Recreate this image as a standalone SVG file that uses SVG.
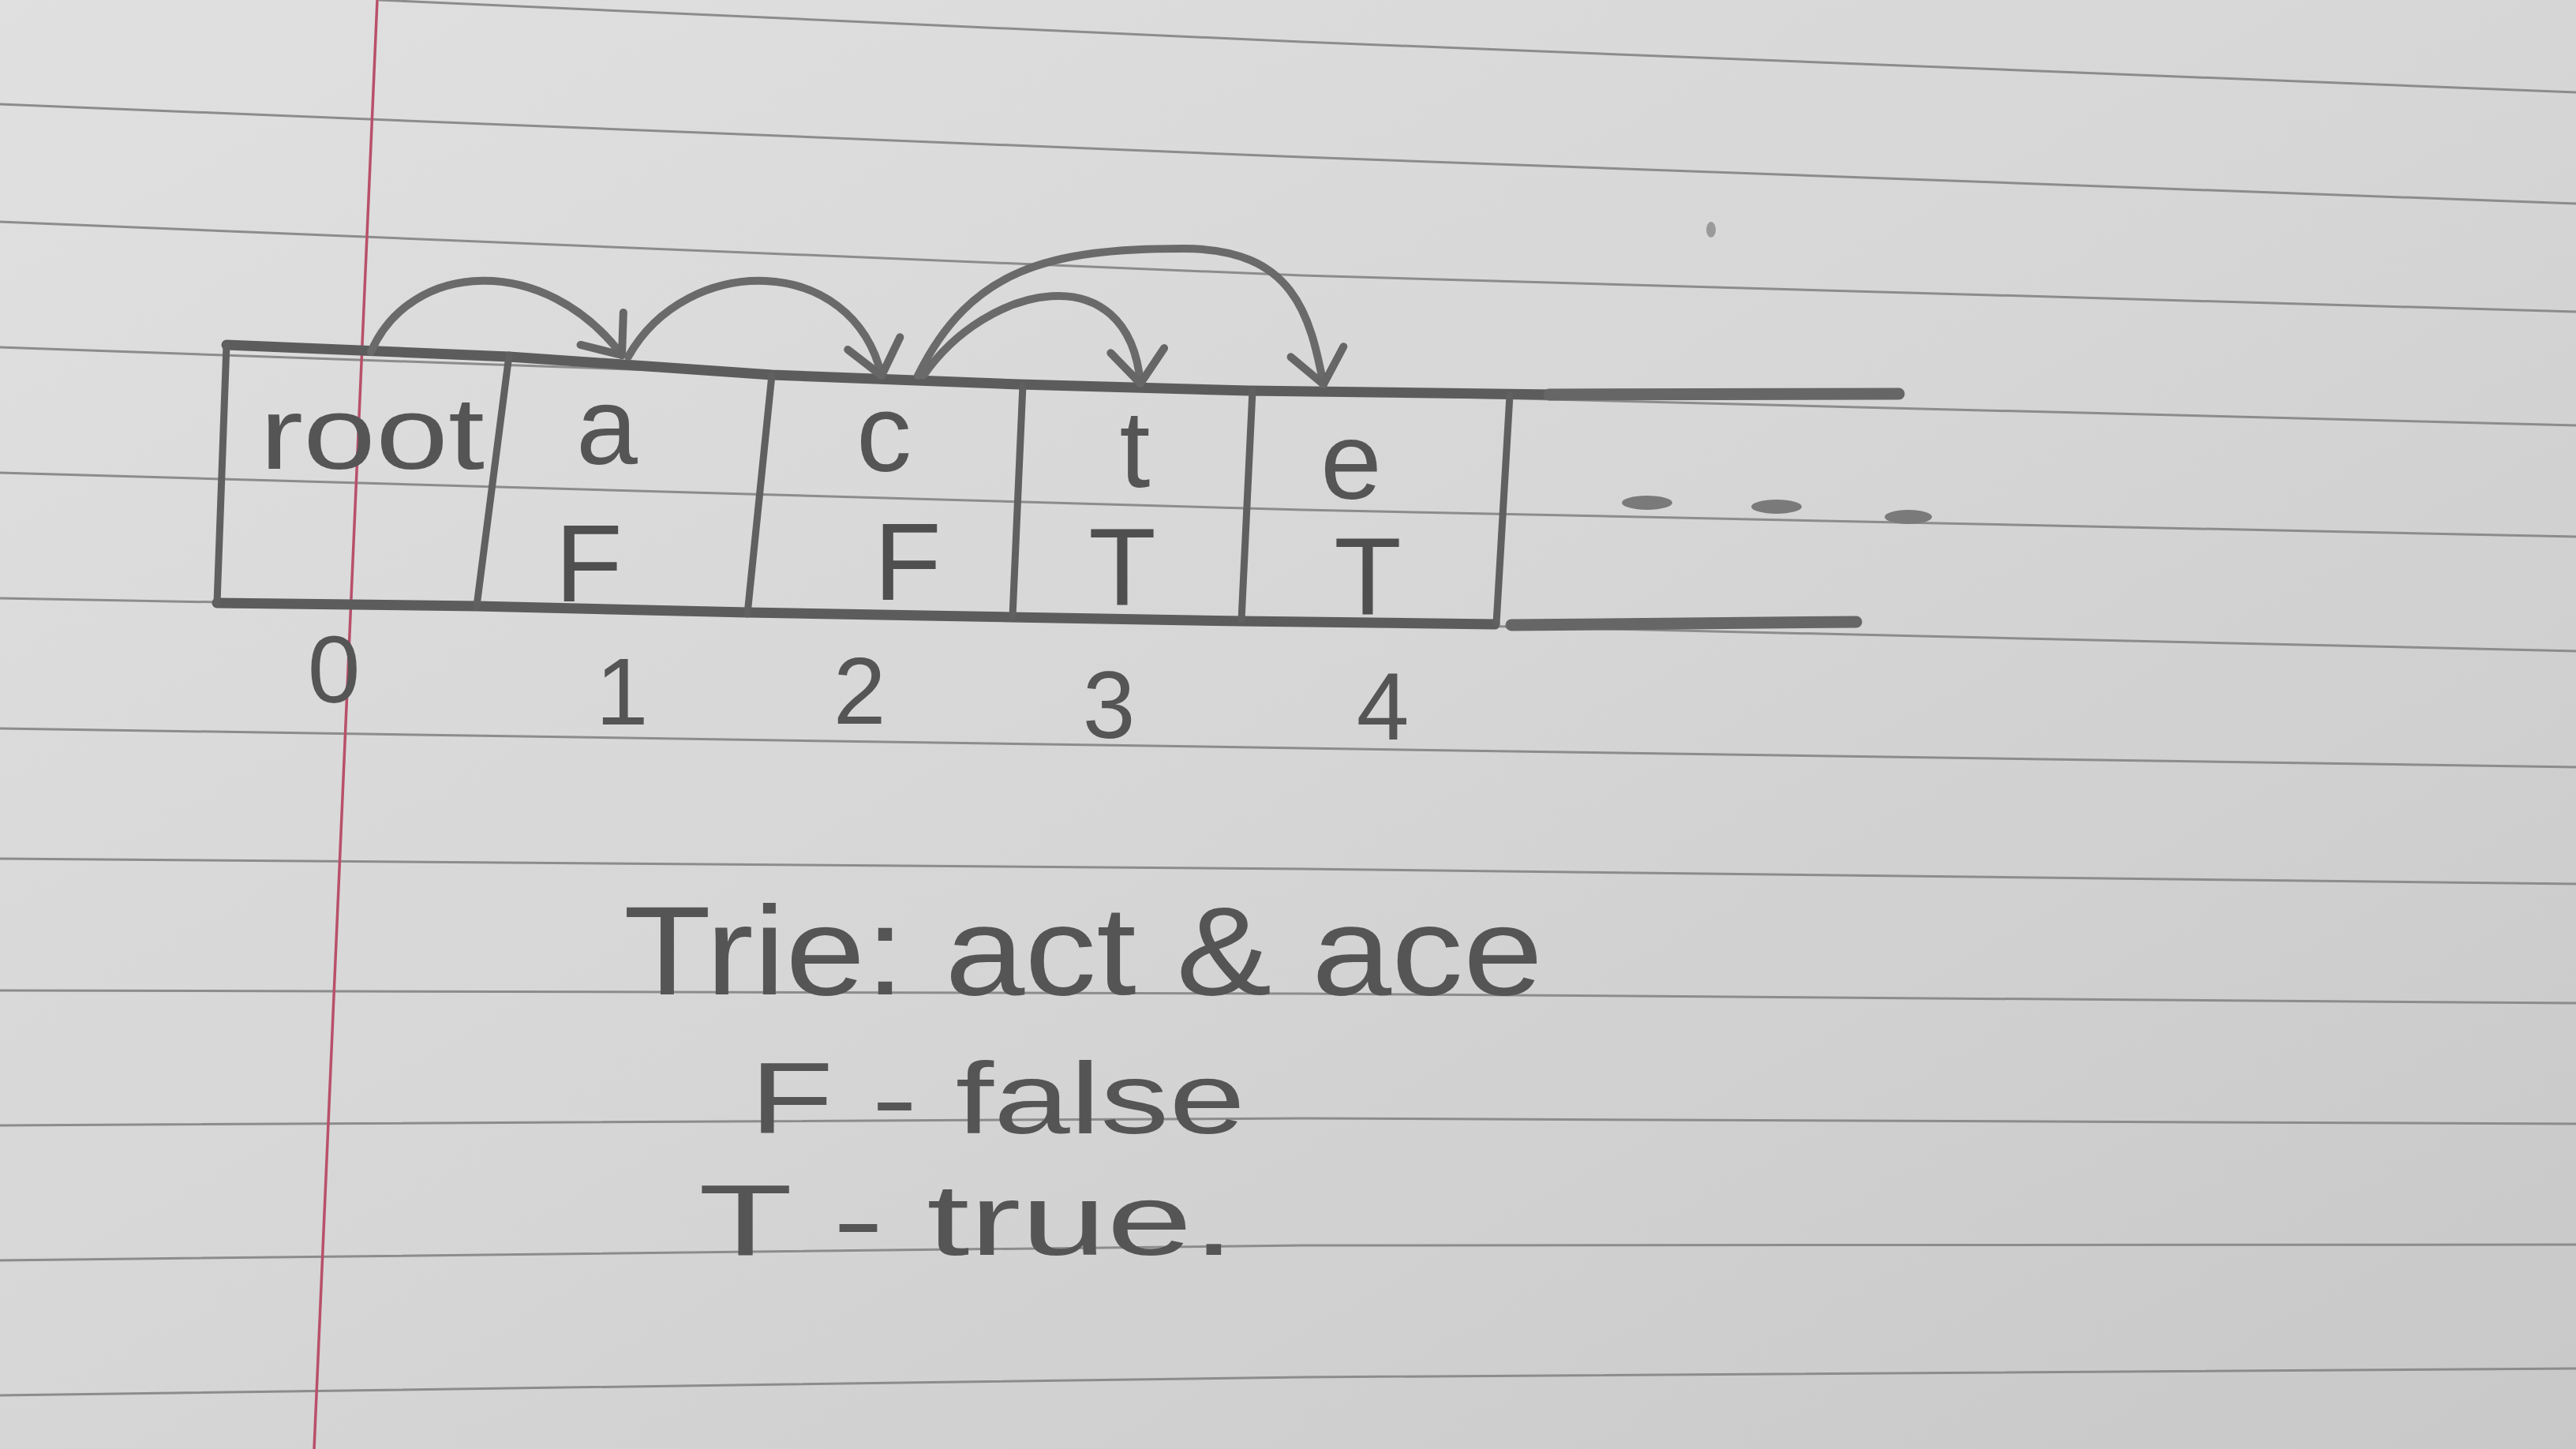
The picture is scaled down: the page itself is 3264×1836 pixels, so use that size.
<svg xmlns="http://www.w3.org/2000/svg" width="3264" height="1836" viewBox="0 0 3264 1836">
  <defs>
    <linearGradient id="paper" x1="0" y1="0" x2="1" y2="1">
      <stop offset="0" stop-color="#e0e0e0"/>
      <stop offset="0.5" stop-color="#d6d6d6"/>
      <stop offset="1" stop-color="#c8c8c8"/>
    </linearGradient>
    <marker id="arrow" markerUnits="userSpaceOnUse" orient="auto" refX="0" refY="0" markerWidth="10" markerHeight="10" overflow="visible">
      <path d="M -42 -34 L 0 0 L -42 34" fill="none" stroke="#666" stroke-width="10" stroke-linecap="round" stroke-linejoin="round"/>
    </marker>
    <style>
      .rule { fill: none; stroke: #8c8c8c; stroke-width: 3; }
      .margin { fill: none; stroke: #b8506a; stroke-width: 3.5; }
      .frame { fill: none; stroke: #5c5c5c; stroke-width: 13; stroke-linecap: round; stroke-linejoin: round; }
      .div { fill: none; stroke: #606060; stroke-width: 9; stroke-linecap: round; }
      .ext { fill: none; stroke: #666; stroke-width: 15; stroke-linecap: round; }
      .conn { fill: none; stroke: #6a6a6a; stroke-width: 10; stroke-linecap: round; }
      .hand { font-family: "Liberation Sans", "DejaVu Sans", sans-serif; fill: #555; }
      .letter { font-size: 140px; text-anchor: middle; }
      .flag { font-size: 140px; text-anchor: middle; fill: #4f4f4f; }
      .idx { font-size: 120px; text-anchor: middle; }
      .legend { font-size: 160px; }
      .legend2 { font-size: 128px; }
    </style>
  </defs>

  <!-- paper -->
  <rect x="0" y="0" width="3264" height="1836" fill="url(#paper)"/>

  <!-- notebook ruling -->
  <g id="ruling">
    <polyline class="rule" points="480,0 1650,53 3264,117"/>
    <polyline class="rule" points="0,132 1650,199 3264,258"/>
    <polyline class="rule" points="0,281 1650,349 3264,395"/>
    <polyline class="rule" points="0,440 1650,498 3264,539"/>
    <polyline class="rule" points="0,599 1650,646 3264,680"/>
    <polyline class="rule" points="0,758 1650,788 3264,825"/>
    <polyline class="rule" points="0,923 1650,948 3264,972"/>
    <polyline class="rule" points="0,1088 1650,1101 3264,1120"/>
    <polyline class="rule" points="0,1255 1650,1259 3264,1271"/>
    <polyline class="rule" points="0,1426 1650,1417 3264,1424"/>
    <polyline class="rule" points="0,1597 1650,1578 3264,1577"/>
    <polyline class="rule" points="0,1768 1650,1745 3264,1734"/>
    <line class="margin" x1="478" y1="0" x2="398" y2="1836"/>
    <ellipse cx="2168" cy="291" rx="6" ry="10" fill="#9a9a9a"/>
  </g>

  <!-- array frame -->
  <g id="frame">
    <polyline class="frame" points="287,437 645,452 978,475 1291,487 1582,495 1967,500"/>
    <line class="ext" x1="1963" y1="500" x2="2406" y2="499"/>
    <polyline class="frame" points="275,764 604,768 947,776 1280,782 1572,787 1894,791"/>
    <line class="ext" x1="1915" y1="792" x2="2352" y2="788"/>
    <g fill="#7a7a7a">
      <ellipse cx="2087" cy="637" rx="32" ry="9"/>
      <ellipse cx="2251" cy="642" rx="32" ry="9"/>
      <ellipse cx="2418" cy="655" rx="30" ry="9"/>
    </g>
  </g>

  <!-- nodes -->
  <g id="node-0">
    <line class="div" x1="287" y1="437" x2="275" y2="764"/>
    <text class="hand" x="329" y="594" font-size="130" textLength="285" lengthAdjust="spacingAndGlyphs">root</text>
    <text class="hand idx" x="423" y="890">0</text>
  </g>
  <g id="node-1">
    <line class="div" x1="645" y1="450" x2="604" y2="768"/>
    <text class="hand letter" x="769" y="588">a</text>
    <text class="hand flag" x="746" y="762">F</text>
    <text class="hand idx" x="788" y="918">1</text>
  </g>
  <g id="node-2">
    <line class="div" x1="978" y1="475" x2="947" y2="778"/>
    <text class="hand letter" x="1120" y="597">c</text>
    <text class="hand flag" x="1150" y="760">F</text>
    <text class="hand idx" x="1089" y="917">2</text>
  </g>
  <g id="node-3">
    <line class="div" x1="1296" y1="488" x2="1283" y2="781"/>
    <text class="hand letter" x="1438" y="617">t</text>
    <text class="hand flag" x="1422" y="766">T</text>
    <text class="hand idx" x="1405" y="935">3</text>
  </g>
  <g id="node-4">
    <line class="div" x1="1587" y1="495" x2="1573" y2="786"/>
    <text class="hand letter" x="1712" y="632">e</text>
    <text class="hand flag" x="1733" y="778">T</text>
    <text class="hand idx" x="1752" y="937">4</text>
  </g>
  <g id="node-5">
    <line class="div" x1="1913" y1="501" x2="1896" y2="790"/>
  </g>

  <!-- connectors -->
  <g id="connectors">
    <path class="conn" d="M 470 446 C 520 330, 690 320, 788 450" marker-end="url(#arrow)"/>
    <path class="conn" d="M 796 452 C 870 320, 1080 320, 1117 476" marker-end="url(#arrow)"/>
    <path class="conn" d="M 1170 476 C 1250 360, 1430 320, 1445 486" marker-end="url(#arrow)"/>
    <path class="conn" d="M 1163 476 C 1230 340, 1330 315, 1500 315 C 1640 315, 1660 400, 1677 487" marker-end="url(#arrow)"/>
  </g>

  <!-- legend -->
  <g id="legend">
    <text class="hand legend" x="790" y="1260" textLength="1165" lengthAdjust="spacingAndGlyphs">Trie: act &amp; ace</text>
    <text class="hand legend2" x="950" y="1436" textLength="628" lengthAdjust="spacingAndGlyphs">F - false</text>
    <text class="hand legend2" x="885" y="1590" textLength="680" lengthAdjust="spacingAndGlyphs">T - true.</text>
  </g>
</svg>
